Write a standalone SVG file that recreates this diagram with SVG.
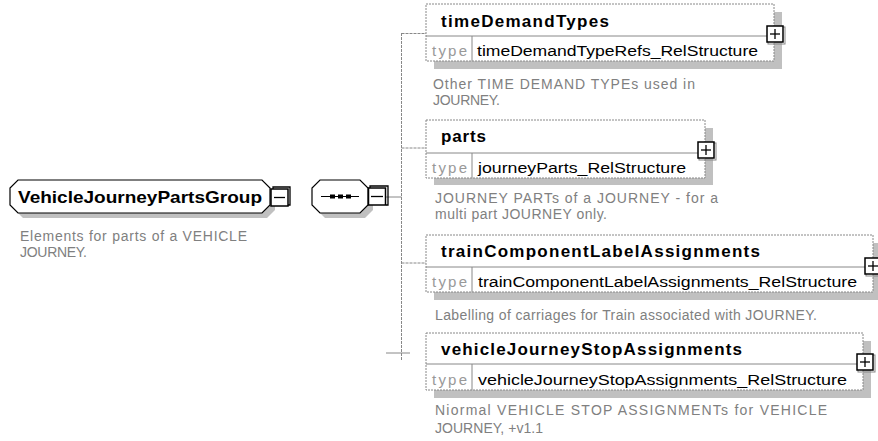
<svg xmlns="http://www.w3.org/2000/svg" width="878" height="441" viewBox="0 0 878 441">
<style>
.bg{fill:#ffffff}
.shadow{fill:#c0c0c0;stroke:none}
.box{fill:#ffffff;stroke:#888888;stroke-width:1;stroke-dasharray:2,1}
.sep{stroke:#888888;stroke-width:1;fill:none}
.oct{fill:#ffffff;stroke:#000000;stroke-width:1.2}
.conn{stroke:#888888;stroke-width:1;fill:none;stroke-dasharray:3,1}
.connS{stroke:#888888;stroke-width:1;fill:none}
.hdr{font-family:"Liberation Sans",Arial,sans-serif;font-weight:bold;font-size:17px;fill:#000000}
.tl{font-family:"Liberation Sans",Arial,sans-serif;font-size:15px;fill:#999999}
.tv{font-family:"Liberation Sans",Arial,sans-serif;font-size:15.5px;fill:#000000}
.desc{font-family:"Liberation Sans",Arial,sans-serif;font-size:14px;fill:#808080}
.btn{fill:#ffffff;stroke:#000000;stroke-width:1.5}
.btnS{fill:none;stroke:#888888;stroke-width:1}
.sym{stroke:#000000;stroke-width:1.3;fill:none}
</style>
<rect class="bg" x="0" y="0" width="878" height="441"/>

<g id="connectors">
  <line class="connS" x1="386" y1="197" x2="401.5" y2="197"/>
  <line class="conn" x1="401.5" y1="33" x2="401.5" y2="361"/>
  <line class="conn" x1="401.5" y1="33.5" x2="426" y2="33.5"/>
  <line class="conn" x1="401.5" y1="148" x2="426" y2="148"/>
  <line class="conn" x1="401.5" y1="263" x2="426" y2="263"/>
  <line class="connS" x1="386" y1="353" x2="410" y2="353"/>
</g>

<g id="VehicleJourneyPartsGroup">
  <polygon class="shadow" points="23,185 267,185 275,193 275,210 267,218 23,218 15,210 15,193"/>
  <polygon class="oct" points="18,180 262,180 270,188 270,205 262,213 18,213 10,205 10,188"/>
  <text class="hdr" x="18" y="203" textLength="244" lengthAdjust="spacingAndGlyphs">VehicleJourneyPartsGroup</text>
  <polyline class="sym" points="273,189 273,187 290,187 290,205 288,205"/>
  <rect class="btn" x="271" y="189" width="17" height="17"/>
  <line class="sym" x1="274" y1="197.5" x2="285" y2="197.5"/>
  <text class="desc" x="20" y="241" textLength="227" lengthAdjust="spacing">Elements for parts of a VEHICLE</text>
  <text class="desc" x="20" y="257" textLength="67" lengthAdjust="spacing">JOURNEY.</text>
</g>

<g id="sequence">
  <polygon class="shadow" points="325,185 365,185 373,193 373,210 365,218 325,218 317,210 317,193"/>
  <polygon class="oct" points="320,180 360,180 368,188 368,205 360,213 320,213 312,205 312,188"/>
  <line x1="321" y1="196.5" x2="359" y2="196.5" stroke="#000" stroke-width="1"/>
  <rect x="330" y="194.5" width="5" height="4" fill="#000"/>
  <rect x="338" y="194.5" width="5" height="4" fill="#000"/>
  <rect x="346" y="194.5" width="5" height="4" fill="#000"/>
  <polyline class="sym" points="370,188 370,186 388,186 388,205 386,205"/>
  <rect class="btn" x="368.5" y="188" width="17" height="17"/>
  <line class="sym" x1="371" y1="196.5" x2="383" y2="196.5"/>
</g>

<g id="timeDemandTypes">
  <rect class="shadow" x="434" y="12" width="348" height="57"/>
  <rect class="box" x="426" y="4" width="348" height="57"/>
  <line class="sep" x1="426" y1="36" x2="774" y2="36"/>
  <line class="sep" x1="472" y1="36" x2="472" y2="61"/>
  <text class="hdr" x="441" y="27" textLength="168" lengthAdjust="spacing">timeDemandTypes</text>
  <text class="tl" x="432" y="56" textLength="35" lengthAdjust="spacing">type</text>
  <text class="tv" x="477" y="56" textLength="281" lengthAdjust="spacingAndGlyphs">timeDemandTypeRefs_RelStructure</text>
  <rect class="btnS" x="768" y="27" width="17" height="17"/>
  <rect class="btn" x="767" y="26" width="16" height="16"/>
  <line class="sym" x1="775" y1="29" x2="775" y2="39"/>
  <line class="sym" x1="770" y1="34" x2="780" y2="34"/>
  <text class="desc" x="433" y="89" textLength="262" lengthAdjust="spacing">Other TIME DEMAND TYPEs used in</text>
  <text class="desc" x="433" y="105" textLength="67" lengthAdjust="spacing">JOURNEY.</text>
</g>

<g id="parts">
  <rect class="shadow" x="434" y="128" width="279" height="57"/>
  <rect class="box" x="426" y="120" width="279" height="58"/>
  <line class="sep" x1="426" y1="153" x2="705" y2="153"/>
  <line class="sep" x1="472" y1="153" x2="472" y2="178"/>
  <text class="hdr" x="441" y="142" textLength="45" lengthAdjust="spacing">parts</text>
  <text class="tl" x="432" y="173" textLength="35" lengthAdjust="spacing">type</text>
  <text class="tv" x="478" y="173" textLength="208" lengthAdjust="spacingAndGlyphs">journeyParts_RelStructure</text>
  <rect class="btnS" x="699" y="143" width="17" height="17"/>
  <rect class="btn" x="698" y="142" width="16" height="16"/>
  <line class="sym" x1="706" y1="145" x2="706" y2="155"/>
  <line class="sym" x1="701" y1="150" x2="711" y2="150"/>
  <text class="desc" x="435" y="203" textLength="283" lengthAdjust="spacing">JOURNEY PARTs  of a JOURNEY - for a</text>
  <text class="desc" x="435" y="219" textLength="172" lengthAdjust="spacing">multi part JOURNEY only.</text>
</g>

<g id="trainComponentLabelAssignments">
  <rect class="shadow" x="434" y="243" width="447" height="57"/>
  <rect class="box" x="426" y="235" width="447" height="57"/>
  <line class="sep" x1="426" y1="267" x2="873" y2="267"/>
  <line class="sep" x1="472" y1="267" x2="472" y2="292"/>
  <text class="hdr" x="441" y="257" textLength="319" lengthAdjust="spacing">trainComponentLabelAssignments</text>
  <text class="tl" x="432" y="287" textLength="35" lengthAdjust="spacing">type</text>
  <text class="tv" x="478" y="287" textLength="379" lengthAdjust="spacingAndGlyphs">trainComponentLabelAssignments_RelStructure</text>
  <rect class="btnS" x="866" y="259" width="17" height="17"/>
  <rect class="btn" x="865" y="258" width="16" height="16"/>
  <line class="sym" x1="873" y1="261" x2="873" y2="271"/>
  <line class="sym" x1="868" y1="266" x2="878" y2="266"/>
  <text class="desc" x="435" y="320" textLength="382" lengthAdjust="spacing">Labelling of carriages for Train associated with JOURNEY.</text>
</g>

<g id="vehicleJourneyStopAssignments">
  <rect class="shadow" x="434" y="341" width="437" height="57"/>
  <rect class="box" x="426" y="333" width="437" height="57"/>
  <line class="sep" x1="426" y1="364" x2="863" y2="364"/>
  <line class="sep" x1="472" y1="364" x2="472" y2="390"/>
  <text class="hdr" x="441" y="355" textLength="301" lengthAdjust="spacing">vehicleJourneyStopAssignments</text>
  <text class="tl" x="432" y="385" textLength="35" lengthAdjust="spacing">type</text>
  <text class="tv" x="478" y="385" textLength="369" lengthAdjust="spacingAndGlyphs">vehicleJourneyStopAssignments_RelStructure</text>
  <rect class="btnS" x="858" y="355" width="17" height="17"/>
  <rect class="btn" x="857" y="354" width="16" height="16"/>
  <line class="sym" x1="865" y1="357" x2="865" y2="367"/>
  <line class="sym" x1="860" y1="362" x2="870" y2="362"/>
  <text class="desc" x="435" y="415" textLength="392" lengthAdjust="spacing">Niormal  VEHICLE STOP ASSIGNMENTs  for VEHICLE</text>
  <text class="desc" x="435" y="433" textLength="108" lengthAdjust="spacing">JOURNEY, +v1.1</text>
</g>
</svg>
